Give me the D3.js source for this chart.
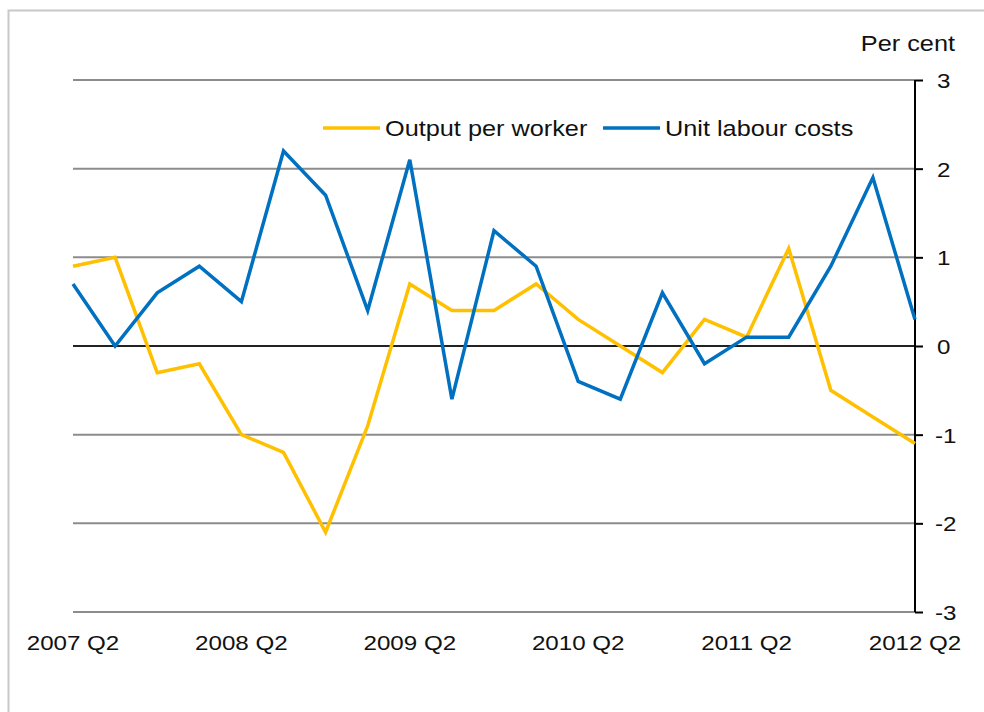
<!DOCTYPE html>
<html>
<head>
<meta charset="utf-8">
<script src="https://d3js.org/d3.v7.min.js"></script>
<style>
  body { margin: 0; background: #fff; }
  svg { display: block; font-family: "Liberation Sans", Arial, sans-serif; }
</style>
</head>
<body>
<script>
var quarters = ["2007 Q2","2007 Q3","2007 Q4","2008 Q1","2008 Q2","2008 Q3","2008 Q4",
  "2009 Q1","2009 Q2","2009 Q3","2009 Q4","2010 Q1","2010 Q2","2010 Q3","2010 Q4",
  "2011 Q1","2011 Q2","2011 Q3","2011 Q4","2012 Q1","2012 Q2"];
var outputPerWorker = [0.9, 1.0, -0.3, -0.2, -1.0, -1.2, -2.1, -0.9, 0.7, 0.4, 0.4,
  0.7, 0.3, 0.0, -0.3, 0.3, 0.1, 1.1, -0.5, -0.8, -1.1];
var unitLabourCosts = [0.7, 0.0, 0.6, 0.9, 0.5, 2.2, 1.7, 0.4, 2.1, -0.6, 1.3,
  0.9, -0.4, -0.6, 0.6, -0.2, 0.1, 0.1, 0.9, 1.9, 0.3];
var xTickLabels = ["2007 Q2","2008 Q2","2009 Q2","2010 Q2","2011 Q2","2012 Q2"];
var yTicks = [-3, -2, -1, 0, 1, 2, 3];
var seriesNames = ["Output per worker", "Unit labour costs"];
var colors = ["#FFC000", "#0070C0"];

var W = 984, H = 712;
var plotL = 73, plotR = 915, plotT = 80, plotB = 612;
var sx = 1.15; // horizontal stretch of the text in the picture

var svg = d3.select("body").append("svg")
    .attr("width", W)
    .attr("height", H);

// frame
svg.append("path")
    .attr("d", "M8.5," + H + "V10.5H" + W)
    .attr("fill", "none")
    .attr("stroke", "#c8c8c8")
    .attr("stroke-width", 2);

var x = d3.scalePoint()
    .domain(quarters)
    .range([plotL, plotR]);

var y = d3.scaleLinear()
    .domain([-3, 3])
    .range([plotB, plotT]);

function label(parent, px, py, str, size, anchor) {
  return parent.append("text")
      .attr("transform", "translate(" + px + "," + py + ") scale(" + sx + ",1)")
      .attr("text-anchor", anchor || "start")
      .attr("font-size", size)
      .attr("fill", "#111")
      .text(str);
}

// gridlines
svg.append("g").selectAll("line")
    .data(yTicks.filter(function(d) { return d !== 0; }))
    .enter().append("line")
    .attr("x1", plotL)
    .attr("x2", plotR)
    .attr("y1", function(d) { return y(d); })
    .attr("y2", function(d) { return y(d); })
    .attr("stroke", "#8c8c8c")
    .attr("stroke-width", 2);

svg.append("line")
    .attr("x1", plotL)
    .attr("x2", plotR)
    .attr("y1", y(0))
    .attr("y2", y(0))
    .attr("stroke", "#222")
    .attr("stroke-width", 2);

// right axis
var yAxis = d3.axisRight(y)
    .tickValues(yTicks)
    .tickSize(8)
    .tickFormat("");
var ax = svg.append("g")
    .attr("transform", "translate(" + plotR + ",0)")
    .call(yAxis);
ax.select(".domain").attr("stroke", "#000").attr("stroke-width", 2)
    .attr("d", "M0," + plotT + "V" + plotB);
ax.selectAll(".tick line").attr("stroke", "#000").attr("stroke-width", 2);

var yl = svg.append("g");
yTicks.forEach(function(t) {
  label(yl, t < 0 ? 935 : 937, y(t) + 8, String(t), 21);
});

label(svg, 955, 51, "Per cent", 22, "end");

// x labels
var xl = svg.append("g");
xTickLabels.forEach(function(q) {
  label(xl, x(q), 650, q, 21, "middle");
});

// lines
var line = d3.line()
    .x(function(d, i) { return x(quarters[i]); })
    .y(function(d) { return y(d); });

[outputPerWorker, unitLabourCosts].forEach(function(s, i) {
  svg.append("path")
      .datum(s)
      .attr("d", line)
      .attr("fill", "none")
      .attr("stroke", colors[i])
      .attr("stroke-width", 3.5)
      .attr("stroke-linejoin", "miter");
});

// legend
var legX = [323, 603];
seriesNames.forEach(function(n, i) {
  svg.append("line")
      .attr("x1", legX[i])
      .attr("x2", legX[i] + 57)
      .attr("y1", 128)
      .attr("y2", 128)
      .attr("stroke", colors[i])
      .attr("stroke-width", 3.5);
  label(svg, legX[i] + 62, 136, n, 22);
});
</script>
</body>
</html>
